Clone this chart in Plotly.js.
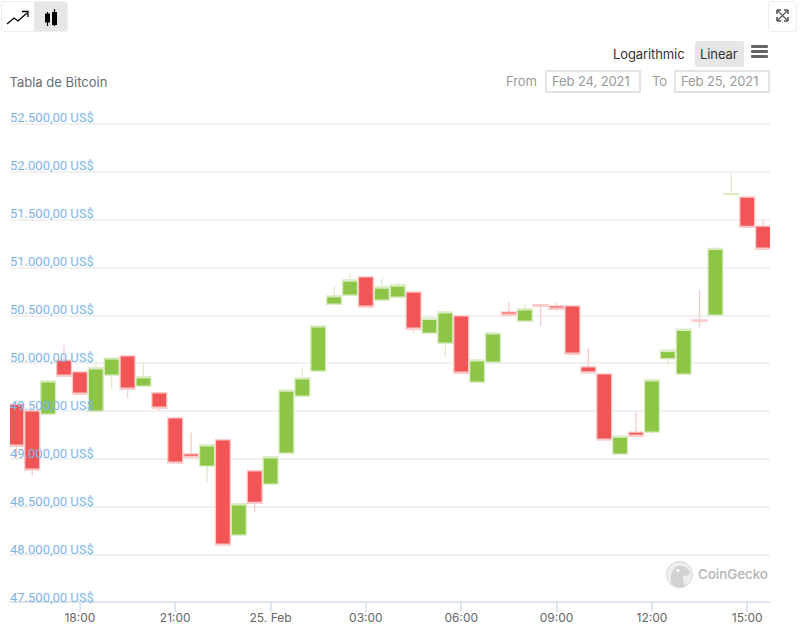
<!DOCTYPE html>
<html>
<head>
<meta charset="utf-8">
<script src="https://cdn.plot.ly/plotly-3.0.1.min.js"></script>
<style>
  html, body { margin: 0; padding: 0; background: #fff; }
  body { width: 810px; height: 629px; position: relative; overflow: hidden; font-family: Inter, Roboto, sans-serif; }
  #chart { position: absolute; left: 0; top: 0; width: 810px; height: 629px; }
  .ui { position: absolute; box-sizing: border-box; white-space: nowrap; letter-spacing: -0.1px; }
  .input { border: 2px solid #e3e3e3; color: #9a9a9a; font-size: 13px; line-height: 18px; height: 23px; width: 96px; padding-left: 5px; }
</style>
</head>
<body>
<div id="chart"></div>

<div class="ui" style="left:1px;top:1px;width:67px;height:31px;border:1px solid #eee;border-radius:3px;overflow:hidden;">
  <div style="position:absolute;left:32px;top:0;width:35px;height:31px;background:#e6e6e6;"></div>
  <svg width="67" height="31" style="position:absolute;left:-1px;top:-1px;">
    <path d="M6 23 L13 17 L17 20 L26 12" fill="none" stroke="#000" stroke-width="1.3"/>
    <path d="M21 10.5 L27 10.5 L27 16" fill="none" stroke="#000" stroke-width="1.3"/>
    <path d="M46.5 11 V25 M53.5 8 V25" stroke="#000" stroke-width="1.2"/>
    <rect x="44" y="12.5" width="5" height="9" fill="#000"/>
    <rect x="51" y="11" width="5" height="13" fill="#000"/>
  </svg>
</div>
<div class="ui" style="left:768px;top:1px;width:29px;height:31px;border:1px solid #eee;border-radius:3px;">
  <svg width="27" height="29" style="position:absolute;left:0;top:0;">
    <path d="M8 8 L19 19 M19 8 L8 19" stroke="#555" stroke-width="1.2"/>
    <path d="M8 8 h4 M8 8 v4 M19 8 h-4 M19 8 v4 M8 19 h4 M8 19 v-4 M19 19 h-4 M19 19 v-4" stroke="#555" stroke-width="1.6"/>
  </svg>
</div>

<div class="ui" style="left:613px;top:46px;font-size:13px;line-height:17px;color:#333;">Logarithmic</div>
<div class="ui" style="left:695px;top:41px;width:49px;height:26px;background:#e6e6e6;border-radius:2px;"></div>
<div class="ui" style="left:700px;top:46px;font-size:13px;line-height:17px;color:#333;">Linear</div>
<svg class="ui" style="left:751px;top:45px;" width="18" height="14">
  <rect x="0" y="0" width="17" height="3" rx="1" fill="#666"/>
  <rect x="0" y="5" width="17" height="3" rx="1" fill="#666"/>
  <rect x="0" y="10" width="17" height="3" rx="1" fill="#666"/>
</svg>

<div class="ui" style="left:506px;top:73px;font-size:13px;line-height:17px;color:#9a9a9a;">From</div>
<div class="ui input" style="left:545px;top:70px;">Feb 24, 2021</div>
<div class="ui" style="left:652px;top:73px;font-size:13px;line-height:17px;color:#9a9a9a;">To</div>
<div class="ui input" style="left:674px;top:70px;">Feb 25, 2021</div>

<svg class="ui" style="left:665px;top:560px;" width="30" height="30">
  <circle cx="14.5" cy="14.5" r="13" fill="#eeeeee" stroke="#d4d4d4" stroke-width="1"/>
  <path d="M6 23 C5 12 9 6 15 6 C20 6 24.5 9 25 12 C25 15 21 16 18 16 C18 20 19 24 20 27 C14 28.5 9 27 6 23 Z" fill="#d2d2d2"/>
  <circle cx="13" cy="10.5" r="1.6" fill="#fff"/>
</svg>
<div class="ui" style="left:698px;top:565px;font-size:13.5px;line-height:18px;color:#b3b3b3;font-weight:500;">CoinGecko</div>

<script>
const times = [
  '2021-02-24 16:00','2021-02-24 16:30','2021-02-24 17:00','2021-02-24 17:30','2021-02-24 18:00','2021-02-24 18:30',
  '2021-02-24 19:00','2021-02-24 19:30','2021-02-24 20:00','2021-02-24 20:30','2021-02-24 21:00','2021-02-24 21:30',
  '2021-02-24 22:00','2021-02-24 22:30','2021-02-24 23:00','2021-02-24 23:30','2021-02-25 00:00','2021-02-25 00:30',
  '2021-02-25 01:00','2021-02-25 01:30','2021-02-25 02:00','2021-02-25 02:30','2021-02-25 03:00','2021-02-25 03:30',
  '2021-02-25 04:00','2021-02-25 04:30','2021-02-25 05:00','2021-02-25 05:30','2021-02-25 06:00','2021-02-25 06:30',
  '2021-02-25 07:00','2021-02-25 07:30','2021-02-25 08:00','2021-02-25 08:30','2021-02-25 09:00','2021-02-25 09:30',
  '2021-02-25 10:00','2021-02-25 10:30','2021-02-25 11:00','2021-02-25 11:30','2021-02-25 12:00','2021-02-25 12:30',
  '2021-02-25 13:00','2021-02-25 13:30','2021-02-25 14:00','2021-02-25 14:30','2021-02-25 15:00','2021-02-25 15:30'
];
const opens = [
  49575,49505,49471,50034,49912,49502,49878,50079,49763,49693,49432,49057,
  48929,49203,48209,48880,48741,49064,49659,49919,50618,50712,50903,50660,
  50691,50746,50316,50211,50496,49805,50013,50538,50441,50615,50600,50600,
  49964,49891,49054,49283,49283,50048,49888,50454,50503,51762,51737,51434
];
const highs = [
  49575,49505,49818,50190,49912,50016,50058,50079,50016,49693,49432,49276,
  49151,49203,48536,48880,49026,49721,49964,50392,50813,50938,50903,50886,
  50844,50746,50503,50538,50496,50037,50319,50636,50615,50615,50636,50600,
  50166,49891,49241,49499,49829,50138,50357,50761,51202,51981,51737,51507
];
const lows = [
  49012,48827,49471,49867,49679,49502,49732,49638,49763,49505,48960,49019,
  48754,48105,48209,48449,48741,49064,49659,49919,50618,50712,50587,50660,
  50691,50323,50316,50068,49898,49805,50013,50503,50441,50389,50542,50097,
  49902,49200,49054,49241,49259,49985,49888,50375,50503,51762,51421,51192
];
const closes = [
  49137,48887,49818,49867,49679,49954,50058,49732,49860,49533,48960,49019,
  49151,48105,48536,48540,49026,49721,49849,50392,50705,50871,50587,50798,
  50819,50357,50472,50538,49898,50037,50319,50503,50569,50597,50566,50097,
  49902,49200,49241,49241,49829,50138,50357,50441,51202,51772,51421,51192
];
const yTickValues = [47500,48000,48500,49000,49500,50000,50500,51000,51500,52000,52500];
const yTickLabels = ['47.500,00 US$','48.000,00 US$','48.500,00 US$','49.000,00 US$','49.500,00 US$','50.000,00 US$','50.500,00 US$','51.000,00 US$','51.500,00 US$','52.000,00 US$','52.500,00 US$'];
const xTickValues = ['2021-02-24 18:00','2021-02-24 21:00','2021-02-25 00:00','2021-02-25 03:00','2021-02-25 06:00','2021-02-25 09:00','2021-02-25 12:00','2021-02-25 15:00'];
const xTickLabels = ['18:00','21:00','25. Feb','03:00','06:00','09:00','12:00','15:00'];

const trace = {
  type: 'candlestick',
  name: 'Bitcoin',
  x: times, open: opens, high: highs, low: lows, close: closes,
  whiskerwidth: 0,
  increasing: { line: { color: '#dcebc4', width: 1.3 }, fillcolor: '#8dc647' },
  decreasing: { line: { color: '#fbcaca', width: 1.3 }, fillcolor: '#f25555' },
  hoverinfo: 'x+y'
};

const layout = {
  width: 810, height: 629,
  margin: { l: 10, r: 40, t: 122, b: 26, pad: 0 },
  paper_bgcolor: 'rgba(0,0,0,0)', plot_bgcolor: 'rgba(0,0,0,0)',
  showlegend: false,
  boxgap: 0.06, boxgroupgap: 0, boxmode: 'overlay',
  font: { family: 'Inter, Roboto, sans-serif' },
  title: { text: 'Tabla de Bitcoin', x: 9.5/810, xanchor: 'left', xref: 'container', y: 1 - 82/629, yanchor: 'middle', yref: 'container',
           font: { size: 13, color: '#666e75' } },
  xaxis: {
    type: 'date',
    range: ['2021-02-24 15:48', '2021-02-25 15:43'],
    rangeslider: { visible: false },
    tickmode: 'array', tickvals: xTickValues, ticktext: xTickLabels,
    showgrid: false, zeroline: false,
    anchor: 'free', position: 0.002,
    showline: true, linecolor: '#e0e5f2', linewidth: 2,
    ticks: 'outside', ticklen: 9, tickwidth: 2, tickcolor: '#e0e5f2',
    ticklabelstandoff: -4,
    tickangle: 0,
    tickfont: { size: 12, color: '#666666' }
  },
  yaxis: {
    range: [47500, 52520],
    tickmode: 'array', tickvals: yTickValues, ticktext: yTickLabels,
    ticklabelposition: 'inside', ticklabelshift: -6, ticklabelstandoff: -3, ticklabeloverflow: 'allow',
    ticks: '', showline: false, zeroline: false,
    showgrid: true, gridcolor: '#f1f1f1', gridwidth: 2,
    tickfont: { family: 'Roboto, sans-serif', size: 13, color: '#7cb5ec' }
  }
};

Plotly.newPlot('chart', [trace], layout, { displayModeBar: false, responsive: false });
</script>
</body>
</html>
